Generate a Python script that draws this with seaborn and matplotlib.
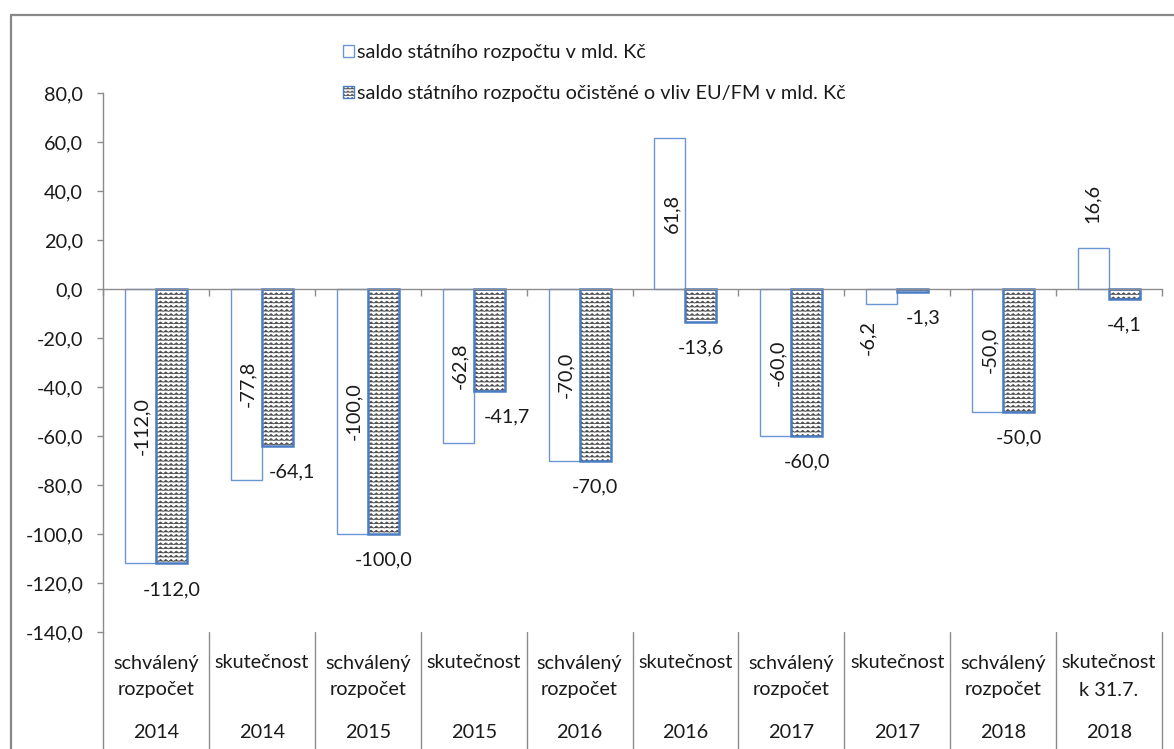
import numpy as np
import pandas as pd
import matplotlib
matplotlib.use("Agg")
import matplotlib.pyplot as plt
import matplotlib.hatch as mhatch
import matplotlib.transforms as mtrans
from matplotlib.path import Path
from matplotlib.patches import Patch, Rectangle
from matplotlib.colors import to_rgba
import seaborn as sns

# ---------------- data ----------------
cat_keys = ["sr2014", "sk2014", "sr2015", "sk2015", "sr2016",
            "sk2016", "sr2017", "sk2017", "sr2018", "sk2018"]
cat_labels = ["schválený\nrozpočet", "skutečnost", "schválený\nrozpočet", "skutečnost",
              "schválený\nrozpočet", "skutečnost", "schválený\nrozpočet", "skutečnost",
              "schválený\nrozpočet", "skutečnost\nk 31.7."]
years = ["2014", "2014", "2015", "2015", "2016", "2016", "2017", "2017", "2018", "2018"]
saldo = [-112.0, -77.8, -100.0, -62.8, -70.0, 61.8, -60.0, -6.2, -50.0, 16.6]
saldo_ocistene = [-112.0, -64.1, -100.0, -41.7, -70.0, -13.6, -60.0, -1.3, -50.0, -4.1]
series_names = ["saldo státního rozpočtu v mld. Kč",
                "saldo státního rozpočtu očistěné o vliv EU/FM v mld. Kč"]
y_ticks = [-140, -120, -100, -80, -60, -40, -20, 0, 20, 40, 60, 80]

# ---------------- layout / style ----------------
FONT = ["Lato", "DejaVu Sans"]
FS = 14.3
TEXT = "#1a1a1a"
GRAY = "#8c8c8c"
BLUE_THIN = "#6b96d6"
BLUE_THICK = "#4a7cc4"
HATCH_COLOR = "#4a4a4a"
hatch_label_dx_px = [0, 15, 0, 18, 0, 0, 0, 10, 0, 0]
hatch_label_dy_px = -26
white_label_outside = {7: (-14, -33), 9: (-1, 45)}


# zigzag hatch replacing the horizontal-line hatch
class ZigzagHatch(mhatch.HatchPatternBase):
    def __init__(self, hatch, density):
        self.num_rows = int(hatch.count('-') * density)
        self.num_periods = int(round(self.num_rows * 0.8))
        self.per_row = 2 * self.num_periods + 1
        self.num_vertices = self.num_rows * self.per_row if self.num_rows else 0

    def set_vertices_and_codes(self, vertices, codes):
        rows = np.linspace(0, 1, self.num_rows, endpoint=False) + 0.5 / self.num_rows
        amp = 0.5 / self.num_rows
        xs = np.linspace(0, 1, self.per_row)
        offs = np.where(np.arange(self.per_row) % 2 == 0, -amp / 2, amp / 2)
        for r, y0 in enumerate(rows):
            s = slice(r * self.per_row, (r + 1) * self.per_row)
            vertices[s, 0] = xs
            vertices[s, 1] = y0 + offs
            codes[s] = Path.LINETO
            codes[r * self.per_row] = Path.MOVETO


mhatch._hatch_types[0] = ZigzagHatch


def set_hatch_color(p):
    if hasattr(p, "set_hatchcolor"):
        p.set_hatchcolor(HATCH_COLOR)
    else:
        p._hatch_color = to_rgba(HATCH_COLOR)


def fmt(v):
    return f"{v:.1f}".replace(".", ",")


sns.set_theme(style="white")
plt.rcParams["font.family"] = FONT
plt.rcParams["hatch.linewidth"] = 0.5

fig = plt.figure(figsize=(11.74, 7.49), dpi=100)
W, H = 1174, 749
ax = fig.add_axes([103 / W, 1 - 632 / H, (1162 - 103) / W, (632 - 93) / H])

df = pd.DataFrame({
    "kategorie": cat_keys * 2,
    "řada": [series_names[0]] * len(cat_keys) + [series_names[1]] * len(cat_keys),
    "hodnota": saldo + saldo_ocistene,
})

sns.barplot(data=df, x="kategorie", y="hodnota", hue="řada", order=cat_keys,
            hue_order=series_names, palette=["white", "white"], saturation=1,
            width=0.585, gap=0, errorbar=None, legend=False, ax=ax)

white_bars = ax.containers[0]
hatch_bars = ax.containers[1]
for p in white_bars:
    p.set_facecolor("white")
    p.set_edgecolor(BLUE_THIN)
    p.set_linewidth(1.0)
for p in hatch_bars:
    p.set_facecolor("white")
    p.set_edgecolor(BLUE_THICK)
    p.set_linewidth(1.8)
    p.set_hatch("----")
    set_hatch_color(p)

# axes styling
ax.set_xlim(-0.5, len(cat_keys) - 0.5)
ax.set_ylim(-140, 80)
ax.set_yticks(y_ticks)
ax.set_yticklabels([fmt(v) for v in y_ticks], fontsize=FS, color=TEXT)
ax.set_xticks(np.arange(len(cat_keys) + 1) - 0.5)
ax.set_xticklabels([])
ax.set_xlabel("")
ax.set_ylabel("")
for s in ["top", "right"]:
    ax.spines[s].set_visible(False)
ax.spines["bottom"].set_position(("data", 0))
ax.spines["bottom"].set_color(GRAY)
ax.spines["left"].set_color(GRAY)
ax.spines["bottom"].set_linewidth(1.0)
ax.spines["left"].set_linewidth(1.0)
ax.tick_params(axis="y", direction="out", length=4.3, width=1.0, color=GRAY, pad=10, left=True)
ax.tick_params(axis="x", direction="out", length=5, width=1.0, color=GRAY, bottom=True, labelbottom=False)
ax.grid(False)

# value labels
for i, p in enumerate(white_bars):
    v = saldo[i]
    xc = p.get_x() + p.get_width() / 2
    if i in white_label_outside:
        dx, dy = white_label_outside[i]
        ax.annotate(fmt(v), xy=(xc, v), xytext=(dx, dy), textcoords="offset pixels",
                    rotation=90, ha="center", va="center", fontsize=FS, color=TEXT,
                    rotation_mode="anchor")
    else:
        ax.annotate(fmt(v), xy=(xc, v / 2), xytext=(1.5, 0), textcoords="offset pixels",
                    rotation=90, ha="center", va="center", fontsize=FS, color=TEXT,
                    rotation_mode="anchor")
for i, p in enumerate(hatch_bars):
    v = saldo_ocistene[i]
    xc = p.get_x() + p.get_width() / 2
    ax.annotate(fmt(v), xy=(xc, v), xytext=(hatch_label_dx_px[i], hatch_label_dy_px),
                textcoords="offset pixels", ha="center", va="center", fontsize=FS, color=TEXT)

# category axis (two-level)
trans = mtrans.blended_transform_factory(ax.transData, ax.transAxes)
for i, (lab, yr) in enumerate(zip(cat_labels, years)):
    for k, line in enumerate(lab.split("\n")):
        ax.annotate(line, xy=(i, 0), xycoords=trans, xytext=(0, -31 - 27 * k),
                    textcoords="offset pixels", ha="center", va="center",
                    fontsize=FS, color=TEXT, annotation_clip=False)
    ax.annotate(yr, xy=(i, 0), xycoords=trans, xytext=(0, -100),
                textcoords="offset pixels", ha="center", va="center",
                fontsize=FS, color=TEXT, annotation_clip=False)
for b in np.arange(len(cat_keys) + 1) - 0.5:
    ax.plot([b, b], [0, -0.3], transform=trans, color=GRAY, lw=1.0, clip_on=False)

# legend
h1 = Patch(facecolor="white", edgecolor=BLUE_THIN, linewidth=1.0)
h2 = Patch(facecolor="white", edgecolor=BLUE_THICK, linewidth=1.0, hatch="-----")
set_hatch_color(h2)
leg = fig.legend([h1, h2], series_names, loc="upper left",
                 bbox_to_anchor=(343 / W, 1 - 44 / H), frameon=False,
                 handlelength=0.55, handleheight=0.55, handletextpad=0.15,
                 labelspacing=1.2, borderpad=0, borderaxespad=0,
                 prop={"family": FONT, "size": FS})
for t in leg.get_texts():
    t.set_color(TEXT)
for lh in leg.legend_handles:
    set_hatch_color(lh)

# outer frame
fig.add_artist(Rectangle((11 / W, -0.1), 1.2, (1 - 15 / H) + 0.1, transform=fig.transFigure,
                         fill=False, edgecolor="#888888", linewidth=1.6))

fig.savefig("out.png", dpi=100)
